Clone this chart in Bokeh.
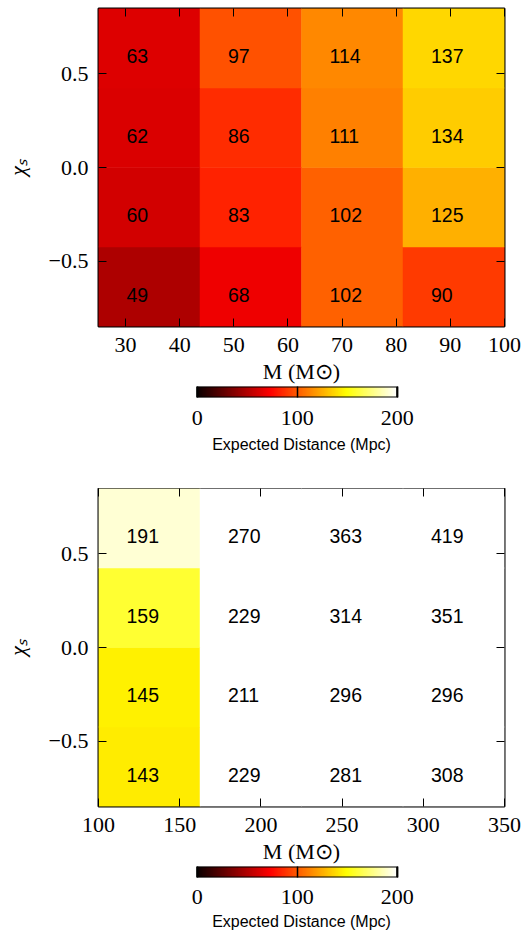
import numpy as np
from bokeh.plotting import figure
from bokeh.models import (ColumnDataSource, LinearColorMapper, FixedTicker,
                          LinearAxis, Range1d)
from bokeh.layouts import column
from bokeh.core.properties import value
from bokeh.transform import transform
from bokeh.embed import file_html
from bokeh.resources import INLINE

# ---------------- data ----------------
chi_edges = [-0.85, -0.425, 0.0, 0.425, 0.85]
chi_ticks = [-0.5, 0.0, 0.5]
chi_tick_labels = ["\u22120.5", "0.0", "0.5"]

mass_edges_low = [25, 43.75, 62.5, 81.25, 100]
mass_ticks_low = [30, 40, 50, 60, 70, 80, 90, 100]
# rows: chi bins from lowest to highest; columns: mass bins
dist_low = [
    [49, 68, 102, 90],
    [60, 83, 102, 125],
    [62, 86, 111, 134],
    [63, 97, 114, 137],
]

mass_edges_high = [100, 162.5, 225, 287.5, 350]
mass_ticks_high = [100, 150, 200, 250, 300, 350]
dist_high = [
    [143, 229, 281, 308],
    [145, 211, 296, 296],
    [159, 229, 314, 351],
    [191, 270, 363, 419],
]

cbar_low, cbar_high = 0, 200
cbar_ticks = [0, 100, 200]

x_label = "M (M\u2299)"
y_label = "\u03c7\u209b"
cbar_label = "Expected Distance (Mpc)"

# ---------------- colormap ("hot") ----------------
def hot(t):
    r = np.interp(t, [0, 0.365079, 1], [0.0416, 1, 1])
    g = np.interp(t, [0, 0.365079, 0.746032, 1], [0, 0, 1, 1])
    b = np.interp(t, [0, 0.746032, 1], [0, 0, 1])
    return "#%02x%02x%02x" % (int(round(r * 255)), int(round(g * 255)), int(round(b * 255)))

palette = [hot(i / 255) for i in range(256)]
mapper = LinearColorMapper(palette=palette, low=cbar_low, high=cbar_high,
                           high_color="#ffffff")

SERIF = "Liberation Serif"
SANS = "Liberation Sans"
TICK_SIZE = "22px"

FRAME_W = 406
BORDER_L = 98
BORDER_R = 20


def heatmap(edges_m, vals, mticks, top_border):
    xs, ys, ws, hs, lefts, vs, labels = [], [], [], [], [], [], []
    for i in range(len(chi_edges) - 1):
        for j in range(len(edges_m) - 1):
            xs.append((edges_m[j] + edges_m[j + 1]) / 2)
            ws.append(edges_m[j + 1] - edges_m[j])
            lefts.append(edges_m[j])
            ys.append((chi_edges[i] + chi_edges[i + 1]) / 2)
            hs.append(chi_edges[i + 1] - chi_edges[i])
            vs.append(vals[i][j])
            labels.append(str(vals[i][j]))
    src = ColumnDataSource(dict(x=xs, y=ys, w=ws, h=hs, left=lefts, v=vs, label=labels))

    p = figure(frame_width=FRAME_W, frame_height=318,
               x_range=Range1d(edges_m[0], edges_m[-1]),
               y_range=Range1d(chi_edges[0], chi_edges[-1]),
               output_backend="svg", toolbar_location=None,
               min_border_left=BORDER_L, min_border_right=BORDER_R,
               min_border_top=top_border, min_border_bottom=0)
    p.rect(x="x", y="y", width="w", height="h", source=src,
           fill_color=transform("v", mapper), line_color=transform("v", mapper),
           line_width=0.5)
    p.text(x="left", y="y", text="label", source=src, x_offset=28, y_offset=8,
           text_align="left", text_baseline="middle",
           text_font=value(SANS), text_font_size="19.5px", text_color="black")

    p.grid.visible = False
    p.outline_line_color = "black"
    p.outline_line_width = 2

    xa = p.xaxis[0]
    xa.ticker = FixedTicker(ticks=mticks)
    ya = p.yaxis[0]
    ya.ticker = FixedTicker(ticks=chi_ticks)
    ya.major_label_overrides = {k: v for k, v in zip(chi_ticks, chi_tick_labels)}
    for ax in (xa, ya):
        ax.axis_line_color = None
        ax.major_tick_in = 8
        ax.major_tick_out = 0
        ax.major_tick_line_color = "black"
        ax.major_tick_line_width = 1
        ax.minor_tick_line_color = None
        ax.major_label_text_font = SERIF
        ax.major_label_text_font_size = TICK_SIZE
        ax.major_label_text_color = "black"
        ax.axis_label_text_font = SERIF
        ax.axis_label_text_font_size = TICK_SIZE
        ax.axis_label_text_font_style = "normal"
        ax.axis_label_text_color = "black"
    xa.axis_label = x_label
    xa.major_label_standoff = 11
    xa.axis_label_standoff = 4
    ya.axis_label = y_label
    ya.axis_label_text_font_style = "italic"
    ya.major_label_standoff = 10
    ya.axis_label_standoff = 16

    for loc, tk in (("above", mticks), ("right", chi_ticks)):
        ax = LinearAxis(ticker=FixedTicker(ticks=tk),
                        major_label_text_color=None, major_label_standoff=0,
                        major_tick_in=8, major_tick_out=0,
                        major_tick_line_color="black", minor_tick_line_color=None,
                        axis_line_color=None)
        p.add_layout(ax, loc)
    return p


# colorbar geometry in screen pixels (bar placed inside a frame as wide as the heatmaps)
BAR_OFFSET_PX = 98.7          # from frame left to bar left
BAR_WIDTH_PX = 200


def colorbar(top_border, bottom_border, tick_standoff, label_standoff):
    upp = (cbar_high - cbar_low) / BAR_WIDTH_PX
    x0 = cbar_low - BAR_OFFSET_PX * upp
    x1 = x0 + FRAME_W * upp
    c = figure(frame_width=FRAME_W, frame_height=11,
               x_range=Range1d(x0, x1), y_range=Range1d(0, 1),
               output_backend="svg", toolbar_location=None,
               min_border_left=BORDER_L, min_border_right=BORDER_R,
               min_border_top=top_border, min_border_bottom=bottom_border,
               y_axis_location=None)
    grad = np.linspace(cbar_low, cbar_high, 256)[None, :]
    c.image(image=[grad], x=cbar_low, y=0, dw=cbar_high - cbar_low, dh=1,
            color_mapper=mapper)
    c.rect(x=[(cbar_low + cbar_high) / 2], y=[0.5], width=[cbar_high - cbar_low],
           height=[1], fill_color=None, line_color="black", line_width=2)
    c.grid.visible = False
    c.outline_line_color = None
    ax = c.xaxis[0]
    ax.ticker = FixedTicker(ticks=cbar_ticks)
    ax.axis_line_color = None
    ax.major_tick_in = 11
    ax.major_tick_out = 0
    ax.major_tick_line_color = "black"
    ax.major_tick_line_width = 1.5
    ax.minor_tick_line_color = None
    ax.major_label_text_font = SERIF
    ax.major_label_text_font_size = TICK_SIZE
    ax.major_label_text_color = "black"
    ax.major_label_standoff = tick_standoff
    ax.axis_label = cbar_label
    ax.axis_label_text_font = SANS
    ax.axis_label_text_font_size = "16px"
    ax.axis_label_text_font_style = "normal"
    ax.axis_label_text_color = "black"
    ax.axis_label_standoff = label_standoff
    return c


p1 = heatmap(mass_edges_low, dist_low, mass_ticks_low, 8)
c1 = colorbar(0, 91, 13, 8)
p2 = heatmap(mass_edges_high, dist_high, mass_ticks_high, 0)
c2 = colorbar(0, 0, 12, 6)

layout = column(p1, c1, p2, c2)
open("out.html", "w").write(file_html(layout, INLINE))
